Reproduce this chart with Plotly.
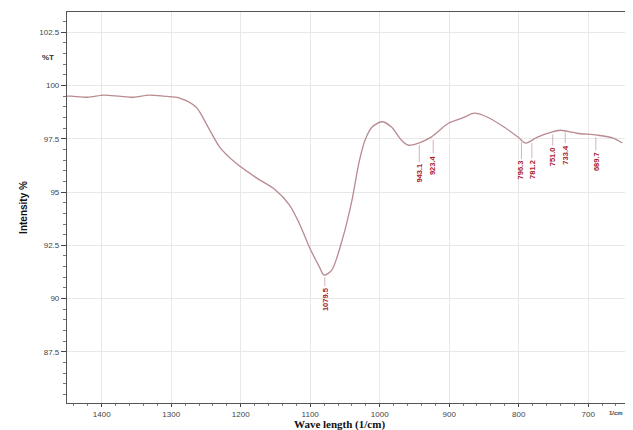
import plotly.graph_objects as go

# Spectrum
wavenumber = [1450, 1444, 1420, 1397, 1375, 1354, 1332, 1311, 1287, 1264, 1247, 1230, 1207,
              1179, 1150, 1130, 1116, 1101, 1087, 1080, 1069, 1054, 1040, 1030, 1021,
              1011, 997, 983, 969, 959, 944, 926, 901, 879, 864, 844, 821, 801, 790,
              773, 754, 740, 716, 687, 664, 651]
transmittance = [99.5, 99.5, 99.45, 99.55, 99.5, 99.45, 99.55, 99.5, 99.4, 98.98, 98.05, 97.1, 96.36,
                 95.7, 95.1, 94.4, 93.55, 92.4, 91.5, 91.1, 91.34, 92.75, 94.6, 96.36, 97.44,
                 98.05, 98.3, 98.05, 97.44, 97.2, 97.3, 97.58, 98.23, 98.5, 98.7, 98.5, 98.05, 97.58, 97.3,
                 97.58, 97.8, 97.9, 97.76, 97.67, 97.53, 97.3]

# Peak picks
peak_wn = [1079, 943, 923, 796, 781, 751, 733, 689]
peak_t = [91.1, 97.3, 97.55, 97.45, 97.4, 97.8, 97.9, 97.67]
peak_labels = ["1079.5", "943.1", "923.4", "796.3", "781.2", "751.0", "733.4", "689.7"]
peak_offset_px = [22, 28, 25, 28, 26, 22, 22, 24]

y_ticks = [87.5, 90, 92.5, 95, 97.5, 100, 102.5]
y_ticktext = ["87.5", "90", "92.5", "95", "97.5", "100", "102.5"]
x_ticks = [1400, 1300, 1200, 1100, 1000, 900, 800, 700]

fig = go.Figure()
fig.add_trace(go.Scatter(x=wavenumber, y=transmittance, mode="lines",
                         line=dict(color="#b98a90", width=1.3, shape="spline", smoothing=0.8),
                         hoverinfo="skip", showlegend=False))

for wn, t, lab, off in zip(peak_wn, peak_t, peak_labels, peak_offset_px):
    fig.add_annotation(x=wn, y=t - 0.1, text="<b>" + lab + "</b>", textangle=-90,
                       showarrow=True, arrowhead=0, arrowwidth=0.8, arrowcolor="#c9a0a5",
                       ax=0, ay=off, font=dict(size=7.5, color="#a8202c", family="Liberation Sans"))

fig.add_annotation(x=-0.02, y=101.3, xref="paper", yref="y", text="<b>%T</b>",
                   showarrow=False, xanchor="right", font=dict(size=8, color="#333"))
fig.add_annotation(x=1.0, y=-0.012, xref="paper", yref="paper", text="<b>1/cm</b>",
                   showarrow=False, xanchor="right", yanchor="top", font=dict(size=6, color="#444"))
fig.add_annotation(x=0.489, y=-0.0545, xref="paper", yref="paper", text="<b>Wave length (1/cm)</b>",
                   showarrow=False, xanchor="center", yanchor="middle",
                   font=dict(size=11, family="Liberation Serif", color="#111"))

fig.update_layout(
    width=625, height=422,
    margin=dict(l=59, r=8, t=4, b=27),
    paper_bgcolor="white", plot_bgcolor="white",
    font=dict(family="Liberation Sans", color="#333"),
    xaxis=dict(range=[1450, 647], tickvals=x_ticks, ticks="outside", ticklen=3,
               tickfont=dict(size=8, color="#444"), showline=True, linecolor="#555", linewidth=1.2,
               mirror=True, showgrid=True, gridcolor="#e8e8e8", zeroline=False,
               minor=dict(dtick=20, ticks="outside", ticklen=2, tickcolor="#777", showgrid=False)),
    yaxis=dict(range=[85.1, 103.45], tickvals=y_ticks, ticktext=y_ticktext, ticks="outside", ticklen=5,
               tickfont=dict(size=8, color="#444"), showline=True, linecolor="#555", linewidth=1.2,
               mirror=True, showgrid=True, gridcolor="#e8e8e8", zeroline=False,
               minor=dict(dtick=0.5, ticks="outside", ticklen=3, tickcolor="#777", showgrid=False),
               title=dict(text="<b>Intensity %</b>", standoff=9,
                          font=dict(size=10, family="Liberation Sans", color="#111"))),
)

fig.write_html("out.html")
